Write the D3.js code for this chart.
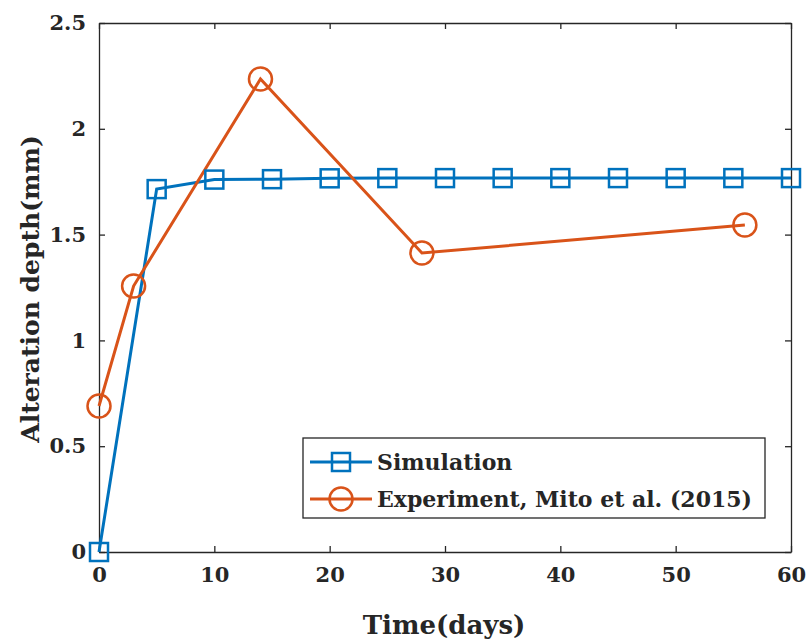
<!DOCTYPE html>
<html>
<head>
<meta charset="utf-8">
<script src="https://cdn.jsdelivr.net/npm/d3@7"></script>
<style>
  body { margin: 0; background: #fff; }
  svg text { font-family: "DejaVu Serif", serif; font-weight: bold; fill: #262626; }
</style>
</head>
<body>
<svg class="js-chart" width="808" height="643"></svg>
<script>
"use strict";

//data

const simDays = [0, 5, 10, 15, 20, 25, 30, 35, 40, 45, 50, 55, 60];
const simDepth = [0, 1.715, 1.76, 1.762, 1.766, 1.767, 1.767, 1.767, 1.767, 1.767, 1.767, 1.767, 1.767];

const expDays = [0, 3, 14, 28, 56];
const expDepth = [0.69, 1.257, 2.235, 1.413, 1.545];

const xTicks = [0, 10, 20, 30, 40, 50, 60];
const yTicks = [0, 0.5, 1, 1.5, 2, 2.5];

const seriesNames = ["Simulation", "Experiment, Mito et al. (2015)"];

//layout

const box = { left: 99, right: 791, top: 23, bottom: 552 };
const blue = "#0072BD";
const orange = "#D95319";

const svg = d3.select(".js-chart");

const x = d3.scaleLinear().domain([0, 60]).range([box.left, box.right]);
const y = d3.scaleLinear().domain([0, 2.5]).range([box.bottom, box.top]);

//axes (ticks inward, box on all sides)

const tickStyle = (g) => {
  g.attr("font-family", null).attr("font-size", null);
  g.select(".domain").attr("stroke", "#262626").attr("stroke-width", 1.3);
  g.selectAll(".tick line").attr("stroke", "#262626").attr("stroke-width", 1.3);
  g.selectAll(".tick text").style("font-size", "21px");
};

svg.append("g")
  .attr("transform", `translate(0, ${box.bottom})`)
  .call(d3.axisBottom(x).tickValues(xTicks).tickSize(-6).tickPadding(15).tickSizeOuter(0))
  .call(tickStyle);

svg.append("g")
  .attr("transform", `translate(0, ${box.top})`)
  .call(d3.axisTop(x).tickValues(xTicks).tickSize(-6).tickFormat("").tickSizeOuter(0))
  .call(tickStyle);

svg.append("g")
  .attr("transform", `translate(${box.left}, 0)`)
  .call(d3.axisLeft(y).tickValues(yTicks).tickSize(-6).tickPadding(13).tickFormat(d3.format("~g")).tickSizeOuter(0))
  .call(tickStyle);

svg.append("g")
  .attr("transform", `translate(${box.right}, 0)`)
  .call(d3.axisRight(y).tickValues(yTicks).tickSize(-6).tickFormat("").tickSizeOuter(0))
  .call(tickStyle);

//axis labels

svg.append("text")
  .attr("x", 444)
  .attr("y", 634)
  .attr("text-anchor", "middle")
  .style("font-size", "26px")
  .text("Time(days)");

svg.append("text")
  .attr("transform", "translate(39, 289) rotate(-90)")
  .attr("text-anchor", "middle")
  .style("font-size", "25px")
  .text("Alteration depth(mm)");

//lines

const lineFn = d3.line().x((d) => x(d[0])).y((d) => y(d[1]));

const simData = simDays.map((d, i) => [d, simDepth[i]]);
const expData = expDays.map((d, i) => [d, expDepth[i]]);

svg.append("path")
  .datum(simData)
  .attr("d", lineFn)
  .attr("fill", "none")
  .attr("stroke", blue)
  .attr("stroke-width", 3);

svg.append("path")
  .datum(expData)
  .attr("d", lineFn)
  .attr("fill", "none")
  .attr("stroke", orange)
  .attr("stroke-width", 3);

//markers

const sq = 18;
const rad = 11.5;

svg.selectAll(".sim-mark")
  .data(simData)
  .enter()
  .append("rect")
  .attr("x", (d) => x(d[0]) - sq / 2)
  .attr("y", (d) => y(d[1]) - sq / 2)
  .attr("width", sq)
  .attr("height", sq)
  .attr("fill", "none")
  .attr("stroke", blue)
  .attr("stroke-width", 2.5);

svg.selectAll(".exp-mark")
  .data(expData)
  .enter()
  .append("circle")
  .attr("cx", (d) => x(d[0]))
  .attr("cy", (d) => y(d[1]))
  .attr("r", rad)
  .attr("fill", "none")
  .attr("stroke", orange)
  .attr("stroke-width", 2.5);

//legend

const legend = svg.append("g");

legend.append("rect")
  .attr("x", 303)
  .attr("y", 438)
  .attr("width", 462)
  .attr("height", 80)
  .attr("fill", "#fff")
  .attr("stroke", "#262626")
  .attr("stroke-width", 1.3);

const rows = [
  { name: seriesNames[0], color: blue, cy: 462, shape: "rect" },
  { name: seriesNames[1], color: orange, cy: 499, shape: "circle" }
];

rows.forEach((row) => {
  legend.append("line")
    .attr("x1", 310).attr("x2", 372)
    .attr("y1", row.cy).attr("y2", row.cy)
    .attr("stroke", row.color)
    .attr("stroke-width", 3);
  if (row.shape === "rect") {
    legend.append("rect")
      .attr("x", 341 - sq / 2).attr("y", row.cy - sq / 2)
      .attr("width", sq).attr("height", sq)
      .attr("fill", "none").attr("stroke", row.color).attr("stroke-width", 2.5);
  } else {
    legend.append("circle")
      .attr("cx", 341).attr("cy", row.cy).attr("r", rad)
      .attr("fill", "none").attr("stroke", row.color).attr("stroke-width", 2.5);
  }
  legend.append("text")
    .attr("x", 377)
    .attr("y", row.cy + 8)
    .style("font-size", "22px")
    .text(row.name);
});
</script>
</body>
</html>
